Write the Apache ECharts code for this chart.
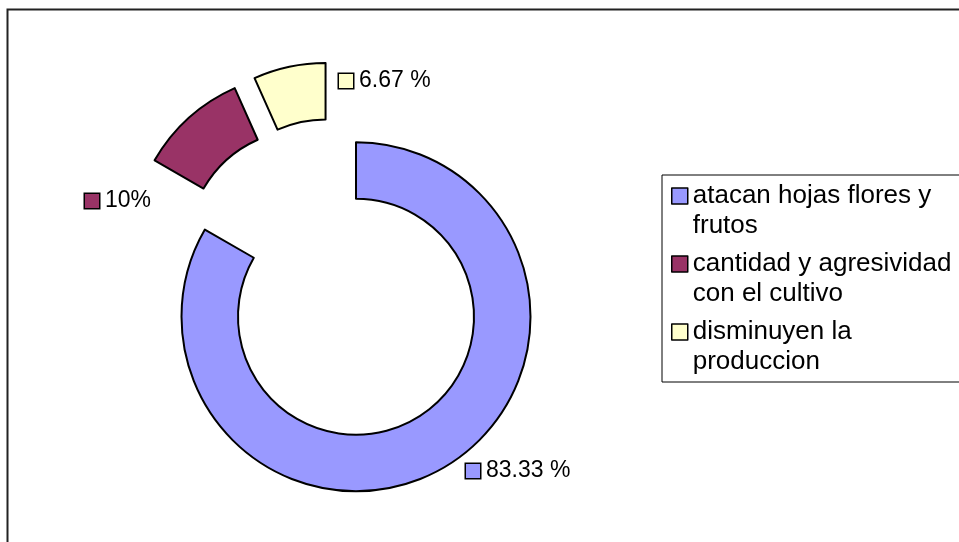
<!DOCTYPE html>
<html>
<head>
<meta charset="utf-8">
<script src="https://cdn.jsdelivr.net/npm/echarts@6/dist/echarts.min.js"></script>
<style>
  html, body { margin: 0; padding: 0; background: #fff; }
  #chart { width: 959px; height: 542px; }
</style>
</head>
<body>
<div id="chart"></div>
<script>
  // datos del grafico
  var categories = ['atacan hojas flores y\nfrutos', 'cantidad y agresividad\ncon el cultivo', 'disminuyen la\nproduccion']
  var values = [83.33, 10, 6.67]
  var valueLabels = ['83.33 %', '10%', '6.67 %']
  var colors = ['#9999FF', '#993366', '#FFFFCC']

  // posiciones de las etiquetas (como en el original)
  var labelPos = [[466, 471], [85, 201], [339, 81]]

  var font = '"Liberation Sans", Arial, sans-serif'
  var center = [334.5, 279.5]
  var radius = [118, 174.5]

  var rich = {
    t: { fontSize: 23, color: '#000', fontFamily: font, padding: [0, 0, 0, 6] }
  }
  colors.forEach(function (c, i) {
    rich['k' + i] = { width: 14, height: 14, backgroundColor: c, borderColor: '#000', borderWidth: 1.5 }
  })

  var chart = echarts.init(document.getElementById('chart'))
  chart.setOption({
    animation: false,
    color: colors,
    graphic: [{
      type: 'rect',
      shape: { x: 7.5, y: 9.5, width: 2000, height: 2000 },
      style: { fill: 'none', stroke: '#222', lineWidth: 2 },
      silent: true
    }],
    legend: {
      orient: 'vertical',
      left: 662,
      top: 175,
      padding: [-24, 30, 5, 9],
      itemGap: -22,
      itemWidth: 16,
      itemHeight: 16,
      icon: 'rect',
      borderColor: '#000',
      borderWidth: 1,
      itemStyle: { borderColor: '#000', borderWidth: 1.5 },
      // linea vacia arriba para que el cuadro quede junto a la primera linea
      formatter: function (name) { return '\n' + name },
      textStyle: {
        fontSize: 26,
        lineHeight: 30,
        color: '#000',
        fontFamily: font
      },
      data: categories
    },
    series: [
      {
        // anillo separado
        type: 'pie',
        center: center,
        radius: radius,
        startAngle: 90,
        clockwise: true,
        selectedMode: 'multiple',
        selectedOffset: 43,
        itemStyle: { borderColor: '#000', borderWidth: 2 },
        select: { itemStyle: { borderColor: '#000', borderWidth: 2 } },
        emphasis: { scale: false },
        label: { show: false },
        labelLine: { show: false },
        data: categories.map(function (name, i) {
          return { name: name, value: values[i], selected: true }
        })
      },
      {
        // solo etiquetas
        type: 'pie',
        silent: true,
        center: center,
        radius: radius,
        startAngle: 90,
        avoidLabelOverlap: false,
        itemStyle: { color: 'rgba(0,0,0,0)', borderWidth: 0 },
        label: {
          show: true,
          position: 'outside',
          formatter: function (p) {
            return '{k' + p.dataIndex + '|}{t|' + valueLabels[p.dataIndex] + '}'
          },
          rich: rich
        },
        labelLine: { show: false },
        labelLayout: function (p) {
          var pos = labelPos[p.dataIndex]
          return { x: pos[0], y: pos[1], align: 'left', verticalAlign: 'middle' }
        },
        data: categories.map(function (name, i) {
          return { name: name, value: values[i] }
        })
      }
    ]
  })
</script>
</body>
</html>
